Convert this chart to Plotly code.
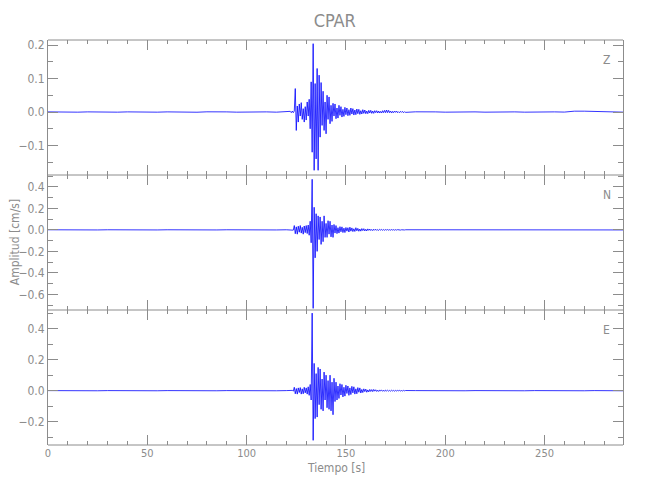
import numpy as np
import plotly.graph_objects as go

# ---------------- data ----------------
station = "CPAR"
components = ["Z", "N", "E"]

# time sampling (s)
pre_start, pre_end, pre_dt = 0.0, 120.0, 5.0
act_start, act_end, act_dt = 122.0, 180.0, 0.5
post_start, post_end, post_dt = 185.0, 290.0, 5.0

# quiet pre-event samples (t = 0 .. 120, every 5 s)
pre_Z = [0.0004, -0.0004, 0.0004, -0.0004, 0.0004, -0.0004, 0.0004, -0.0004, 0.0004, -0.0004,
         0.0004, -0.0004, 0.0004, -0.0004, 0.0004, -0.0006, 0.0006, -0.0006, 0.0004, -0.0004,
         0.0004, -0.0004, 0.0004, -0.0004, 0.0004]
pre_N = [0.0008, -0.0008, 0.0008, -0.0008, 0.0008, -0.0008, 0.0008, -0.0008, 0.0008, -0.0008,
         0.0008, -0.0008, 0.0008, -0.0008, 0.0008, -0.0008, 0.0008, -0.0008, 0.0008, -0.0008,
         0.0008, -0.0008, 0.0008, -0.0008, 0.0008]
pre_E = [0.0006, -0.0006, 0.0006, -0.0006, 0.0006, -0.0006, 0.0006, -0.0006, 0.0006, -0.0006,
         0.0006, -0.0006, 0.0006, -0.0006, 0.0006, -0.0006, 0.0006, -0.0006, 0.0006, -0.0006,
         0.0006, -0.0006, 0.0006, -0.0006, 0.0006]

# event window samples (t = 122 .. 180, every 0.5 s)
act_Z = [0.002, -0.002, 0.003, -0.002, 0.003, 0.070, -0.055, 0.018, -0.030, 0.024,
         -0.012, 0.028, -0.022, 0.010, -0.030, 0.016, -0.024, 0.030, -0.012, 0.038,
         -0.050, 0.090, -0.120, 0.204, -0.174, 0.085, -0.140, 0.130, -0.174, 0.110,
         -0.075, 0.088, -0.040, 0.062, -0.055, 0.030, -0.065, 0.050, -0.022, 0.045,
         -0.035, 0.020, -0.028, 0.026, -0.012, 0.024, -0.020, 0.012, -0.018, 0.020,
         -0.010, 0.016, -0.015, 0.008, -0.013, 0.014, -0.008, 0.012, -0.011, 0.007,
         -0.010, 0.012, -0.006, 0.010, -0.009, 0.006, -0.008, 0.009, -0.005, 0.008,
         -0.007, 0.004, -0.006, 0.007, -0.004, 0.006, -0.005, 0.003, -0.005, 0.005,
         -0.003, 0.005, -0.004, 0.003, -0.004, 0.004, -0.002, 0.004, -0.003, 0.003,
         -0.003, 0.002, -0.003, 0.004, -0.002, 0.005, -0.002, 0.006, -0.002, 0.005,
         -0.002, 0.003, -0.003, 0.002, -0.002, 0.003, -0.001, 0.003, -0.002, 0.001,
         -0.002, 0.002, -0.001, 0.002, -0.002, 0.001, -0.001]
act_N = [0.002, -0.002, 0.002, -0.003, 0.040, -0.036, 0.028, -0.040, 0.034, -0.022,
         0.040, -0.030, 0.024, -0.040, 0.036, -0.026, 0.040, -0.034, 0.045, -0.050,
         0.080, -0.120, 0.470, -0.730, 0.210, -0.260, 0.150, -0.200, 0.130, -0.090,
         0.120, -0.135, 0.080, -0.110, 0.130, -0.070, 0.060, -0.070, 0.085, -0.040,
         0.080, -0.065, 0.045, -0.070, 0.050, -0.030, 0.040, -0.035, 0.020, -0.030,
         0.030, -0.018, 0.028, -0.025, 0.016, -0.025, 0.022, -0.012, 0.020, -0.020,
         0.025, -0.012, 0.018, -0.016, 0.010, -0.015, 0.020, -0.009, 0.014, -0.013,
         0.008, -0.012, 0.012, -0.007, 0.011, -0.010, 0.006, -0.010, 0.009, -0.005,
         0.008, -0.006, 0.004, -0.007, 0.006, -0.004, 0.006, -0.005, 0.003, -0.005,
         0.005, -0.003, 0.004, -0.004, 0.003, -0.004, 0.003, -0.002, 0.003, -0.003,
         0.002, -0.003, 0.003, -0.002, 0.002, -0.003, 0.002, -0.002, 0.002, -0.001,
         0.002, -0.002, 0.001, -0.002, 0.002, -0.001, 0.001]
act_E = [0.002, -0.002, 0.002, -0.003, 0.022, -0.020, 0.014, -0.022, 0.018, -0.012,
         0.020, -0.022, 0.012, -0.020, 0.022, -0.014, 0.018, -0.022, 0.025, -0.030,
         0.040, -0.060, 0.500, -0.320, 0.176, -0.180, 0.110, -0.170, 0.150, -0.090,
         0.140, -0.120, 0.075, -0.130, 0.120, -0.060, 0.100, -0.110, 0.065, -0.120,
         0.100, -0.130, 0.055, -0.155, 0.080, -0.070, 0.055, -0.060, 0.030, -0.050,
         0.045, -0.028, 0.040, -0.040, 0.022, -0.035, 0.035, -0.018, 0.030, -0.030,
         0.018, -0.025, 0.028, -0.014, 0.025, -0.022, 0.012, -0.020, 0.020, -0.010,
         0.018, -0.015, 0.008, -0.012, 0.012, -0.006, 0.010, -0.010, 0.005, -0.008,
         0.008, -0.005, 0.007, -0.006, 0.008, -0.003, 0.006, -0.005, 0.003, -0.005,
         0.005, -0.002, 0.004, -0.004, 0.003, -0.004, 0.004, -0.002, 0.003, -0.003,
         0.002, -0.003, 0.003, -0.002, 0.002, -0.003, 0.002, -0.002, 0.002, -0.001,
         0.002, -0.002, 0.001, -0.002, 0.002, -0.001, 0.001]

# quiet post-event samples (t = 185 .. 290, every 5 s)
post_Z = [0.0006, -0.0006, 0.0004, -0.0004, 0.0004, -0.0004, 0.0004, -0.0004, 0.0004, -0.0004,
          0.0004, -0.0004, 0.0004, -0.0004, 0.0004, -0.0002, 0.0025, 0.0025, 0.0015, -0.0004,
          0.0004, -0.0004]
post_N = [0.0008, -0.0008, 0.0008, -0.0008, 0.0008, -0.0008, 0.0008, -0.0008, 0.0008, -0.0008,
          0.0008, -0.0008, 0.0008, -0.0008, 0.0008, -0.0008, 0.0008, -0.0008, 0.0008, -0.0008,
          0.0008, -0.0008]
post_E = [0.0006, -0.0006, 0.0006, -0.0006, 0.0006, -0.0006, 0.0006, -0.0006, 0.0006, -0.0006,
          0.0006, -0.0006, 0.0006, -0.0006, 0.0006, -0.0006, 0.0006, -0.0006, 0.0006, -0.0006,
          0.0006, -0.0006]

y_ranges = {"Z": [-0.188, 0.215], "N": [-0.745, 0.51], "E": [-0.35, 0.52]}
y_dticks = {"Z": (0.1, 0.05), "N": (0.2, 0.1), "E": (0.2, 0.1)}
x_range = [0, 289.5]

# ---------------- build ----------------
time_s = np.concatenate([
    np.arange(pre_start, pre_end + 1e-9, pre_dt),
    np.arange(act_start, act_end + 1e-9, act_dt),
    np.arange(post_start, post_end + 1e-9, post_dt),
])
traces = {
    "Z": pre_Z + act_Z + post_Z,
    "N": pre_N + act_N + post_N,
    "E": pre_E + act_E + post_E,
}
for k, v in traces.items():
    assert len(v) == len(time_s), (k, len(v), len(time_s))

FONT = "Liberation Sans Narrow, DejaVu Sans Condensed, Arial Narrow, sans-serif"
GRAY = "#8c8c8c"

domains = [[2 / 3, 1.0], [1 / 3, 2 / 3], [0.0, 1 / 3]]

fig = go.Figure()
layout = {}
for i, comp in enumerate(components, start=1):
    xa = "x" if i == 1 else f"x{i}"
    ya = "y" if i == 1 else f"y{i}"
    fig.add_trace(go.Scatter(x=time_s, y=traces[comp], mode="lines",
                             line=dict(color="#0000ff", width=0.8),
                             xaxis=xa, yaxis=ya,
                             showlegend=False, hoverinfo="skip"))
    major, minor = y_dticks[comp]
    layout["yaxis" if i == 1 else f"yaxis{i}"] = dict(
        domain=domains[i - 1], anchor=xa,
        range=y_ranges[comp], dtick=major, tick0=0, tickformat=".1f",
        ticks="inside", ticklen=10, tickcolor=GRAY, tickwidth=1,
        minor=dict(dtick=minor, tick0=0, ticks="inside", ticklen=5,
                   tickcolor=GRAY, showgrid=False),
        showline=True, linecolor=GRAY, linewidth=1, mirror="allticks",
        showgrid=False, zeroline=False, automargin=False,
        tickfont=dict(family=FONT, size=12, color=GRAY))
    layout["xaxis" if i == 1 else f"xaxis{i}"] = dict(
        domain=[0, 1], anchor=ya, matches=None if i == 3 else "x3",
        range=x_range, dtick=50, tick0=0,
        ticks="inside", ticklen=10, tickcolor=GRAY, tickwidth=1,
        minor=dict(dtick=10, tick0=0, ticks="inside", ticklen=4,
                   tickcolor=GRAY, showgrid=False),
        showline=False, mirror="allticks",
        showgrid=False, zeroline=False, automargin=False,
        showticklabels=(i == 3),
        tickfont=dict(family=FONT, size=11, color=GRAY))
    fig.add_annotation(text=comp, x=0.972, y=0.85,
                       xref=f"{xa} domain", yref=f"{ya} domain",
                       showarrow=False, xanchor="center", yanchor="middle",
                       font=dict(family=FONT, size=12, color=GRAY))

fig.update_layout(**layout)

# single horizontal frame lines at the panel edges
for yb in [0.0, 1 / 3, 2 / 3, 1.0]:
    fig.add_shape(type="line", xref="paper", yref="paper", x0=0, x1=1, y0=yb, y1=yb,
                  line=dict(color=GRAY, width=1), layer="above")

fig.add_annotation(text="Tiempo [s]", x=0.5, y=-0.058, xref="paper", yref="paper",
                   showarrow=False, xanchor="center", yanchor="middle",
                   font=dict(family=FONT, size=12, color=GRAY))
fig.add_annotation(text="Amplitud [cm/s]", x=-0.058, y=0.5, xref="paper", yref="paper",
                   textangle=-90, showarrow=False, xanchor="center", yanchor="middle",
                   font=dict(family=FONT, size=12, color=GRAY))

fig.update_layout(
    width=650, height=500,
    margin=dict(l=48, r=27, t=40, b=55, autoexpand=False),
    paper_bgcolor="white", plot_bgcolor="white",
    title=dict(text=station, x=0.515, xanchor="center", y=0.958, yanchor="middle",
               font=dict(family=FONT, size=18, color=GRAY)),
)

fig.write_html("out.html", config={"displayModeBar": False},
               post_script="document.body.style.margin='0';document.body.style.padding='0';")
